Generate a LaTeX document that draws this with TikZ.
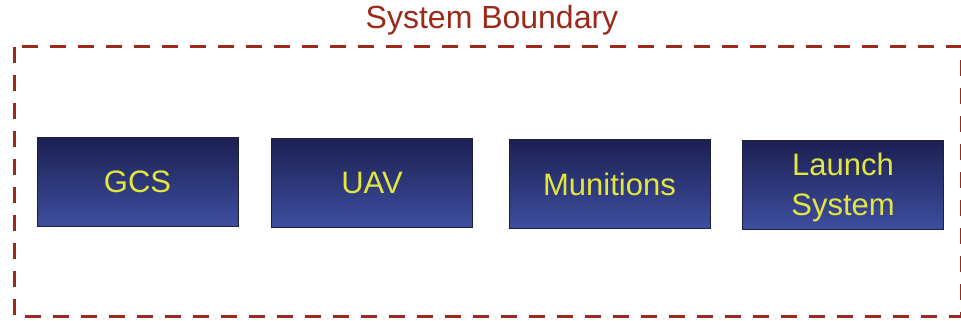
\documentclass[tikz,border=0pt]{standalone}
\usepackage{fontspec}
\setmainfont{Liberation Sans}
\definecolor{boundaryred}{RGB}{155,42,26}
\definecolor{boxtop}{RGB}{28,32,82}
\definecolor{boxbottom}{RGB}{62,78,160}
\definecolor{boxedge}{RGB}{30,32,60}
\definecolor{labelyellow}{RGB}{228,230,64}
\tikzset{
  subsystem/.style={draw=boxedge, line width=0.8pt, top color=boxtop, bottom color=boxbottom,
    minimum width=201pt, minimum height=89pt, inner sep=0pt,
    text=labelyellow, font=\fontsize{31}{40}\selectfont, align=center},
  boxlabel/.style={text=labelyellow, font=\fontsize{31}{40}\selectfont, align=center},
  boundary/.style={draw=boundaryred, line width=3pt, dash pattern=on 16pt off 12pt},
  title/.style={text=boundaryred, font=\fontsize{32}{38}\selectfont}
}
\begin{document}
\begin{tikzpicture}[x=1pt,y=-1pt]
  \useasboundingbox (0,0) rectangle (961,321);
  \clip (0,0) rectangle (961,321);
  \fill[white] (0,0) rectangle (961,321);
  % dashed system boundary (right edge runs off the page)
  \draw[boundary] (14,47) rectangle (961,316);
  \node[title] (title) at (492,20) {System Boundary};
  % subsystems
  \node[subsystem] (gcs) at (137.5,182) {GCS};
  \node[subsystem] (uav) at (372,183) {UAV};
  \node[subsystem] (mun) at (609.5,184) {Munitions};
  \node[subsystem] (launch) at (843,185) {};
  \node[boxlabel] (launchlabel) at ([yshift=-2pt]launch.center) {Launch\\System};
\end{tikzpicture}
\end{document}
